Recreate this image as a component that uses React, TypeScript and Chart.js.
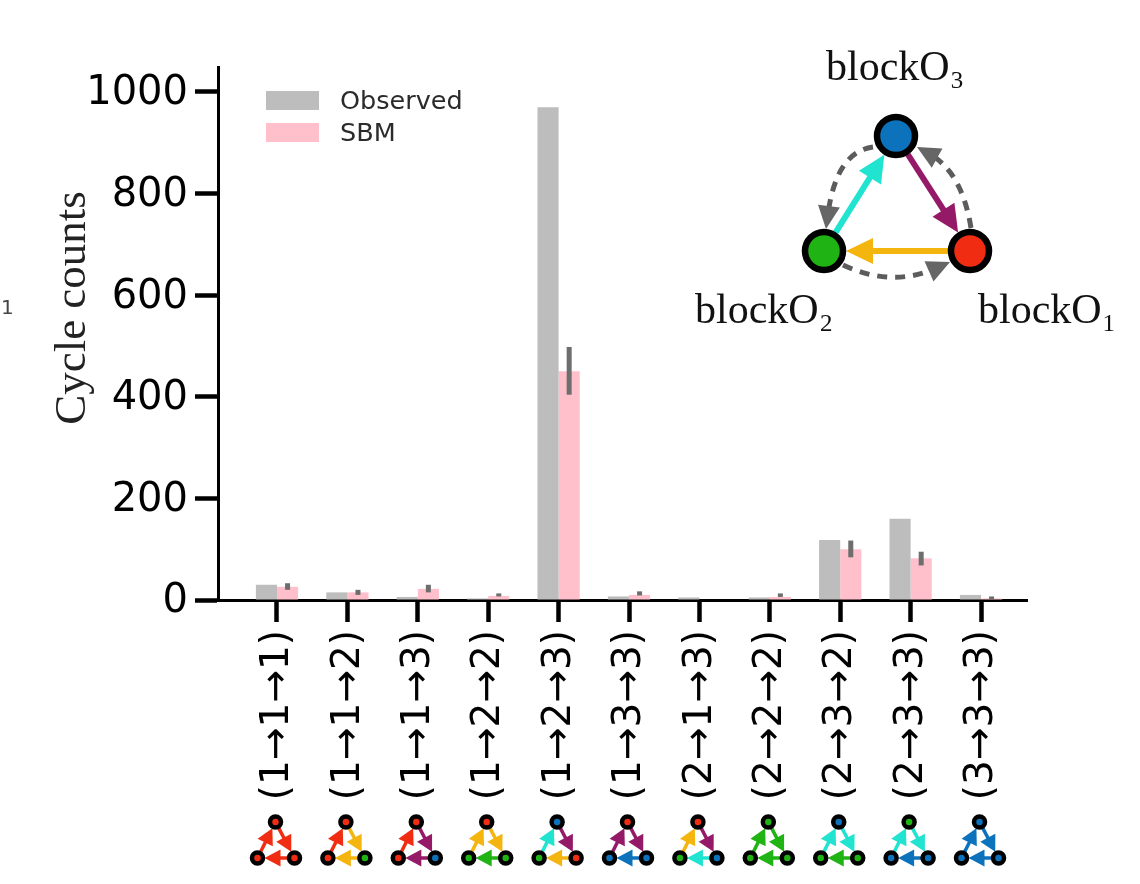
import { useEffect, useRef } from 'react';
import { Chart, registerables } from 'chart.js';

Chart.register(...registerables);

const categories = ['(1→1→1)', '(1→1→2)', '(1→1→3)', '(1→2→2)', '(1→2→3)', '(1→3→3)', '(2→1→3)', '(2→2→2)', '(2→3→2)', '(2→3→3)', '(3→3→3)'];
const observed = [30, 15, 6, 3, 970, 7, 5, 5, 118, 160, 10];
const sbm = [26, 15, 22, 8, 450, 10, 1, 6, 100, 82, 3];
const sbmErrLow = [20, 10, 15, 7, 404, 9, null, 6, 84, 68, 1];
const sbmErrHigh = [33, 20, 30, 13, 498, 17, null, 13, 117, 95, 7];
const yTicks = [0, 200, 400, 600, 800, 1000];

const RED = '#f02d12';
const GREEN = '#1fb314';
const BLUE = '#0c72bc';
const YELLOW = '#f5b50f';
const TEAL = '#20e3d0';
const PURPLE = '#941a68';

// node colours: top, left, right
const motifNodes = [
  [RED, RED, RED], [RED, RED, GREEN], [RED, RED, BLUE], [RED, GREEN, GREEN], [BLUE, GREEN, RED], [RED, BLUE, BLUE],
  [RED, GREEN, BLUE], [GREEN, GREEN, GREEN], [BLUE, GREEN, GREEN], [GREEN, BLUE, BLUE], [BLUE, BLUE, BLUE],
];
// edge colours: left->top, top->right, right->left
const motifEdges = [
  [RED, RED, RED], [RED, YELLOW, YELLOW], [RED, PURPLE, PURPLE], [YELLOW, YELLOW, GREEN], [TEAL, PURPLE, YELLOW], [PURPLE, PURPLE, BLUE],
  [YELLOW, PURPLE, TEAL], [GREEN, GREEN, GREEN], [TEAL, TEAL, GREEN], [TEAL, TEAL, BLUE], [BLUE, BLUE, BLUE],
];

type Pt = { x: number; y: number };

function arrowHead(ctx: CanvasRenderingContext2D, tip: Pt, angle: number, len: number, halfW: number, color: string) {
  ctx.fillStyle = color;
  ctx.beginPath();
  ctx.moveTo(tip.x, tip.y);
  ctx.lineTo(tip.x - len * Math.cos(angle) - halfW * Math.sin(angle), tip.y - len * Math.sin(angle) + halfW * Math.cos(angle));
  ctx.lineTo(tip.x - len * Math.cos(angle) + halfW * Math.sin(angle), tip.y - len * Math.sin(angle) - halfW * Math.cos(angle));
  ctx.closePath();
  ctx.fill();
}

function edge(ctx: CanvasRenderingContext2D, a: Pt, b: Pt, gap: number, lw: number, len: number, halfW: number, color: string) {
  const angle = Math.atan2(b.y - a.y, b.x - a.x);
  const start = { x: a.x + gap * Math.cos(angle), y: a.y + gap * Math.sin(angle) };
  const tip = { x: b.x - gap * Math.cos(angle), y: b.y - gap * Math.sin(angle) };
  ctx.strokeStyle = color;
  ctx.lineWidth = lw;
  ctx.setLineDash([]);
  ctx.beginPath();
  ctx.moveTo(start.x, start.y);
  ctx.lineTo(tip.x - len * 0.8 * Math.cos(angle), tip.y - len * 0.8 * Math.sin(angle));
  ctx.stroke();
  arrowHead(ctx, tip, angle, len, halfW, color);
}

function node(ctx: CanvasRenderingContext2D, p: Pt, r: number, lw: number, color: string) {
  ctx.fillStyle = color;
  ctx.strokeStyle = '#000';
  ctx.lineWidth = lw;
  ctx.setLineDash([]);
  ctx.beginPath();
  ctx.arc(p.x, p.y, r, 0, Math.PI * 2);
  ctx.fill();
  ctx.stroke();
}

function dashedCurve(ctx: CanvasRenderingContext2D, a: Pt, c: Pt, b: Pt) {
  const angle = Math.atan2(b.y - c.y, b.x - c.x);
  ctx.strokeStyle = '#5c5c5c';
  ctx.lineWidth = 5;
  ctx.setLineDash([10, 8]);
  ctx.beginPath();
  ctx.moveTo(a.x, a.y);
  ctx.quadraticCurveTo(c.x, c.y, b.x - 14 * Math.cos(angle), b.y - 14 * Math.sin(angle));
  ctx.stroke();
  ctx.setLineDash([]);
  arrowHead(ctx, b, angle, 23, 11, '#666666');
}

const decorations = {
  id: 'decorations',
  afterDatasetsDraw(chart: Chart) {
    const ctx = chart.ctx;
    const x = chart.scales.x;
    const y = chart.scales.y;
    const meta = chart.getDatasetMeta(1);
    ctx.save();

    // error bars on the SBM series
    ctx.fillStyle = '#6e6e6e';
    sbmErrLow.forEach((low, i) => {
      const high = sbmErrHigh[i];
      if (low === null || high === null) return;
      const top = y.getPixelForValue(high);
      ctx.fillRect(meta.data[i].x - 2.5, top, 5, y.getPixelForValue(low) - top);
    });

    // legend
    ctx.textAlign = 'left';
    ctx.textBaseline = 'middle';
    ctx.font = '25.5px "DejaVu Sans"';
    chart.data.datasets.forEach((ds, i) => {
      const row = 91 + i * 32;
      ctx.fillStyle = ds.backgroundColor as string;
      ctx.fillRect(266, row, 53, 19);
      ctx.fillStyle = '#2b2b2b';
      ctx.fillText(ds.label as string, 340, row + 11);
    });

    // small motifs under the tick labels
    categories.forEach((_, i) => {
      const cx = x.getPixelForValue(i);
      const top = { x: cx - 1.5, y: 822 };
      const left = { x: cx - 19.5, y: 858 };
      const right = { x: cx + 17.5, y: 858 };
      const edges = motifEdges[i];
      edge(ctx, left, top, 7, 3.5, 16, 8.5, edges[0]);
      edge(ctx, top, right, 7, 3.5, 16, 8.5, edges[1]);
      edge(ctx, right, left, 7, 3.5, 16, 8.5, edges[2]);
      const nodes = motifNodes[i];
      node(ctx, top, 5.5, 4.5, nodes[0]);
      node(ctx, left, 5.5, 4.5, nodes[1]);
      node(ctx, right, 5.5, 4.5, nodes[2]);
    });

    // block diagram, top right
    const t = { x: 896, y: 136 };
    const l = { x: 824, y: 251 };
    const r = { x: 970, y: 251 };
    dashedCurve(ctx, { x: 873, y: 147 }, { x: 836, y: 152 }, { x: 826, y: 229 });
    dashedCurve(ctx, { x: 843, y: 265 }, { x: 892, y: 288 }, { x: 950, y: 262 });
    dashedCurve(ctx, { x: 971, y: 228 }, { x: 962, y: 172 }, { x: 917, y: 147 });
    edge(ctx, l, t, 22, 6, 27, 13, TEAL);
    edge(ctx, t, r, 22, 6, 27, 13, PURPLE);
    edge(ctx, r, l, 22, 6, 27, 13, YELLOW);
    node(ctx, t, 19, 6.5, BLUE);
    node(ctx, l, 19, 6.5, GREEN);
    node(ctx, r, 19, 6.5, RED);

    ctx.fillStyle = '#111';
    ctx.textBaseline = 'alphabetic';
    ctx.font = '42px "Liberation Serif"';
    ctx.fillText('blockO₃', 826, 80);
    ctx.fillText('blockO₂', 695, 323);
    ctx.fillText('blockO₁', 978, 323);

    ctx.fillStyle = '#444';
    ctx.font = '20px "DejaVu Sans"';
    ctx.textBaseline = 'middle';
    ctx.fillText('1', 1, 309);

    // axis title sits above the axis centre in the reference, so it is placed by hand
    ctx.translate(73, 308);
    ctx.rotate(-Math.PI / 2);
    ctx.textAlign = 'center';
    ctx.fillStyle = '#222';
    ctx.font = '45px "Liberation Serif"';
    ctx.fillText('Cycle counts', 0, 0);
    ctx.restore();
  },
};

export default function App() {
  const chartRef = useRef<HTMLCanvasElement>(null);

  useEffect(() => {
    if (!chartRef.current) return;
    const chart = new Chart(chartRef.current, {
      type: 'bar',
      data: {
        datasets: [
          { label: 'Observed', data: observed.map((v, i) => ({ x: i, y: v })), backgroundColor: '#bdbdbd', categoryPercentage: 0.6, barPercentage: 1 },
          { label: 'SBM', data: sbm.map((v, i) => ({ x: i, y: v })), backgroundColor: '#ffc0cb', categoryPercentage: 0.6, barPercentage: 1 },
        ],
      } as any,
      options: {
        responsive: false,
        animation: false,
        layout: { padding: { top: 67, right: 113, left: 0, bottom: 0 } },
        plugins: { legend: { display: false }, tooltip: { enabled: false } },
        scales: {
          x: {
            type: 'linear',
            offset: false,
            min: -0.838,
            max: 10.653,
            afterFit: (s: any) => { s.height = 284; s.paddingLeft = 0; s.paddingRight = 0; },
            afterBuildTicks: (s: any) => { s.ticks = categories.map((_, i) => ({ value: i })); },
            border: { display: true, color: '#000', width: 3 },
            grid: { offset: false, drawOnChartArea: false, drawTicks: true, tickLength: 22, tickWidth: 4.5, tickColor: '#000' },
            ticks: {
              autoSkip: false,
              includeBounds: false,
              maxRotation: 90,
              minRotation: 90,
              padding: 8,
              labelOffset: 1,
              color: '#000',
              font: { family: '"DejaVu Sans"', size: 39 },
              callback: (v: any) => categories[v],
            },
          },
          y: {
            min: 0,
            max: 1049,
            afterFit: (s: any) => { s.width = 218; s.paddingTop = 0; s.paddingBottom = 0; },
            afterBuildTicks: (s: any) => { s.ticks = yTicks.map((value) => ({ value })); },
            border: { display: true, color: '#000', width: 3 },
            grid: { drawOnChartArea: false, drawTicks: true, tickLength: 23, tickWidth: 4.5, tickColor: '#000' },
            ticks: {
              padding: 7,
              labelOffset: 2,
              color: '#000',
              font: { family: '"DejaVu Sans"', size: 40 },
              callback: (v: any) => String(v),
            },
          },
        },
      },
      plugins: [decorations],
    });

    return () => {
      chart.destroy();
    };
  }, []);

  return (
    <div style={{ position: 'absolute', left: 0, top: 0, width: 1140, height: 884, background: '#fff' }}>
      <canvas ref={chartRef} width={1140} height={884} />
    </div>
  );
}
